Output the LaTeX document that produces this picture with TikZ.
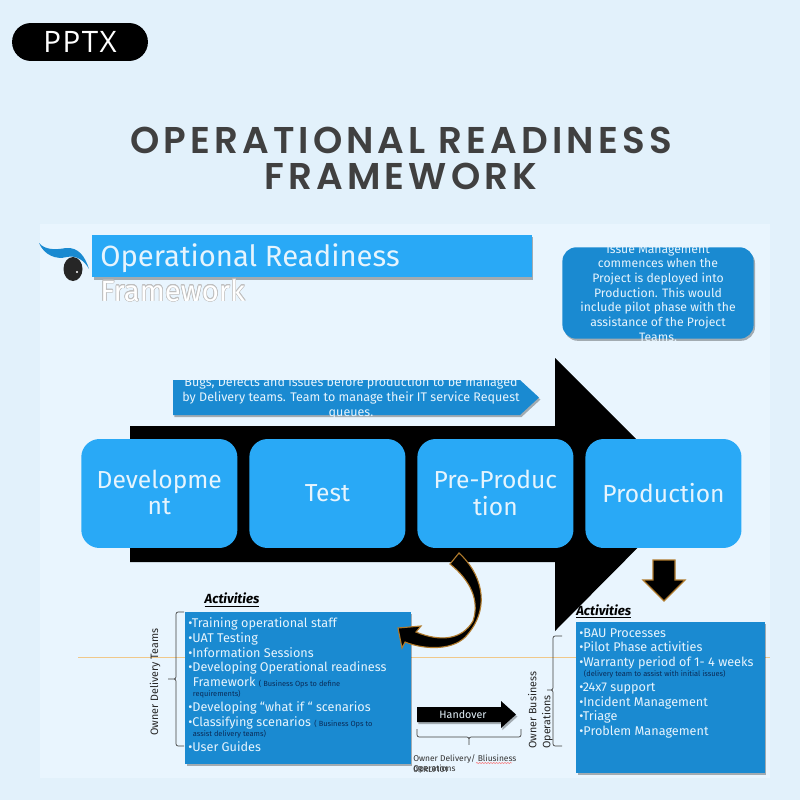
\documentclass[tikz,border=0pt]{standalone}
\usepackage{fontspec}
\usepackage[copies]{contour}
\usetikzlibrary{matrix,shadows,decorations.pathmorphing}
\setmainfont{Fira Sans}
\newfontfamily\titlefont[LetterSpace=11]{Poppins SemiBold}
\newfontfamily\pillfont[LetterSpace=5]{Open Sans}
\definecolor{pagebg}{HTML}{E2F1FB}
\definecolor{panelbg}{HTML}{E9F5FE}
\definecolor{lightblue}{HTML}{29A9F6}
\definecolor{darkblue}{HTML}{1A8AD1}
\definecolor{palewhite}{HTML}{E6F4FD}
\definecolor{inkblue}{HTML}{0A2C58}
\definecolor{bronze}{HTML}{B07A2C}
\definecolor{ruleline}{HTML}{F0C88A}
\contourlength{0.4pt}
\newcommand{\fs}[2]{\fontsize{#1}{#2}\selectfont}
\newcommand{\smalltxt}[1]{{\fontsize{5.3}{6}\selectfont\color{inkblue}#1}}
\newcommand{\twolines}[2]{\raisebox{-2pt}[\height][\depth]{\begin{tabular}{@{}c@{}}#1\\#2\end{tabular}}}
\begin{document}
\begin{tikzpicture}[x=0.025cm,y=-0.025cm,
  boxshadow/.style={drop shadow={shadow xshift=1pt,shadow yshift=-1.5pt,opacity=0.3,fill=black}},
  stage/.style={fill=lightblue,text=palewhite,rounded corners=13pt,minimum width=111pt,minimum height=77.5pt,
    anchor=center,align=center,inner sep=0pt,font=\fs{17.5}{18.5}},
  panelbox/.style={fill=darkblue,boxshadow,inner sep=0pt,anchor=north west},
  bullets/.style={anchor=north west,inner sep=0pt,align=left,text=palewhite,font=\fs{9}{10.45}},
  heading/.style={font=\fs{9.4}{10}\bfseries\itshape,text=black,inner sep=0pt},
  side/.style={font=\fs{7.6}{10},text=black!85,rotate=90,align=left,inner sep=0pt},
  curly/.style={draw=black!75,line width=0.5pt,rounded corners=1.5pt},
  outlined/.style={fill=black,draw=bronze,line width=0.8pt,line join=miter}]
\useasboundingbox (0,0) rectangle (800,800);
\fill[pagebg] (0,0) rectangle (800,800);
\node[fill=black,text=white,rounded corners=13.4pt,minimum width=96.6pt,minimum height=27pt,inner sep=0pt,
  font=\pillfont\fs{21}{22}] (pill) at (80,42) {PPTX};
\node[font=\titlefont\fs{26.5}{25.6},text=black!75,align=center,inner sep=0pt] (title) at (401,158)
  {OPERATIONAL READINESS\\FRAMEWORK};
\fill[panelbg] (40,224) rectangle (770,778);
\draw[ruleline,line width=0.7pt] (78,657) -- (770,657);
% logo
\fill[black!85] (73,269) ellipse (9.5 and 12);
\fill[white] (77,272) circle (1.2);
\fill[darkblue] (39,243) .. controls (44,255) and (56,260) .. (67,257) .. controls (76,255) and (84,260) .. (89,269)
  .. controls (85,256) and (78,247) .. (66,248) .. controls (55,250) and (45,250) .. (39,243) -- cycle;
% title bar
\node[fill=lightblue,boxshadow,minimum width=312.5pt,minimum height=30pt,inner sep=0pt,anchor=north west] (bar) at (92,235) {};
\node[text=palewhite,anchor=base west,inner sep=0pt,font=\fs{20.8}{22}] (barone) at (100,266) {Operational Readiness};
\node[text=white,anchor=base west,inner sep=0pt,font=\fs{20.8}{22}] (bartwo) at (100,301) {\contour{black!25}{Framework}};
% issue note
\node[fill=darkblue,boxshadow,rounded corners=10pt,minimum width=136pt,minimum height=65pt,inner sep=0pt] (issue) at (658,293) {};
\begin{scope}
\clip (550,247) rectangle (770,360);
\node[align=center,text=palewhite,inner sep=0pt,font=\fs{8.7}{10.45}] (issuetxt) at (658,293) {Issue Management\\
  commences  when the\\Project is deployed into\\Production.  This would\\include pilot phase with the\\
  assistance of the Project\\Teams.};
\end{scope}
% main arrow
\fill[black] (130,426) -- (555,426) -- (555,358) -- (691,494) -- (555,631) -- (555,562) -- (130,562) -- cycle;
\fill[darkblue,boxshadow] (173,380) -- (520,380) -- (539,397.5) -- (520,415) -- (173,415) -- cycle;
\begin{scope}
\clip (160,380) rectangle (545,430);
\node[align=center,text=palewhite,inner sep=0pt,font=\fs{8.9}{10.45}] (bugs) at (351,398) {Bugs, Defects and issues before production to be managed\\
  by Delivery teams. Team to manage their IT service Request\\queues.};
\end{scope}
\matrix (m) [matrix of nodes, nodes={stage}, column sep=8.5pt, inner sep=0pt, anchor=west] at (81,493.5)
{\twolines{Developme}{nt}&Test&\twolines{Pre-Produc}{tion}&Production\\
};
\path[outlined] (653,560) -- (675,560) -- (675,580) -- (685,580) -- (664,601) -- (643,580) -- (653,580) -- cycle;
% left panel
\node[heading] (actleft) at (232,600) {\underline{Activities}};
\node[panelbox,minimum width=160.2pt,minimum height=107.7pt] (leftbox) at (185,612) {};
\node[bullets] (lefttxt) at (188,617.5) {\textbullet Training  operational staff\\
\textbullet UAT Testing\\
\textbullet Information Sessions\\
\textbullet Developing Operational readiness\\
\hspace*{3.3pt}Framework \smalltxt{( Business Ops to define}\\[-3pt]
\hspace*{3.3pt}\smalltxt{requirements)}\\
\textbullet Developing “what if “ scenarios\\
\textbullet Classifying scenarios \smalltxt{( Business Ops to}\\[-3pt]
\hspace*{3.3pt}\smalltxt{assist delivery teams)}\\
\textbullet User Guides};
\coordinate (braceleft) at (184,612);
\coordinate (braceleftend) at (184,746);
\coordinate (bracelefttip) at (167,679);
\draw[curly] (braceleft) -- (176,612) -- (176,679) -- (bracelefttip) -- (176,679) -- (176,746) -- (braceleftend);
\node[side] (ownerleft) at (155,682) {Owner Delivery Teams};
% curved arrow
\path[outlined] (459,553) .. controls (480,572) and (492,605) .. (468,634) .. controls (455,651) and (425,650) .. (405,642)
  -- (402,648) -- (398,628) -- (421,626) -- (416,632) .. controls (440,642) and (462,640) .. (473,621)
  .. controls (480,600) and (470,580) .. (450,564) -- cycle;
% handover
\path[fill=black,boxshadow] (417,707) -- (501,707) -- (501,701) -- (516,714.5) -- (501,728) -- (501,722) -- (417,722) -- cycle;
\node[text=palewhite,font=\fs{7.6}{9},inner sep=0pt] (handover) at (463,714.5) {Handover};
\coordinate (bracehand) at (417,729);
\coordinate (bracehandend) at (521,729);
\coordinate (bracehandtip) at (469,746);
\draw[curly] (bracehand) -- (417,737) -- (469,737) -- (bracehandtip) -- (469,737) -- (521,737) -- (bracehandend);
\node[anchor=base west,inner sep=0pt,font=\fs{6}{7},text=black!80] (ownerhand) at (413,761) {Owner Delivery/ Bliusiness};
\node[anchor=base west,inner sep=0pt,font=\fs{6}{7},text=black!80] (ownerhandtwo) at (413,771) {Operations};
\node[anchor=base west,inner sep=0pt,font=\fs{6}{7},text=black!80] (ownerhandcode) at (413,772) {0RRL9101};
\draw[red!75,line width=0.3pt,decorate,decoration={snake,amplitude=0.3pt,segment length=2pt}]
  (476,763) -- (512,763);
% right panel
\node[heading,anchor=west] (actright) at (576,611.5) {\underline{Activities}};
\node[panelbox,minimum width=134pt,minimum height=107pt] (rightbox) at (576,622) {};
\node[bullets] (righttxt) at (579,628) {\textbullet BAU Processes\\
\textbullet Pilot Phase activities\\
\textbullet Warranty period of 1- 4 weeks\\[-3pt]
\hspace*{3.3pt}\smalltxt{(delivery team to assist with initial issues)}\\
\textbullet 24x7 support\\
\textbullet Incident Management\\
\textbullet Triage\\
\textbullet Problem Management};
\coordinate (braceright) at (562,636);
\coordinate (bracerightend) at (562,746);
\coordinate (bracerighttip) at (546,690);
\draw[curly] (braceright) -- (553,636) -- (553,690) -- (bracerighttip) -- (553,690) -- (553,746) -- (bracerightend);
\node[side,anchor=south west] (ownerright) at (553,749) {Owner Business\\Operations};
\end{tikzpicture}
\end{document}
